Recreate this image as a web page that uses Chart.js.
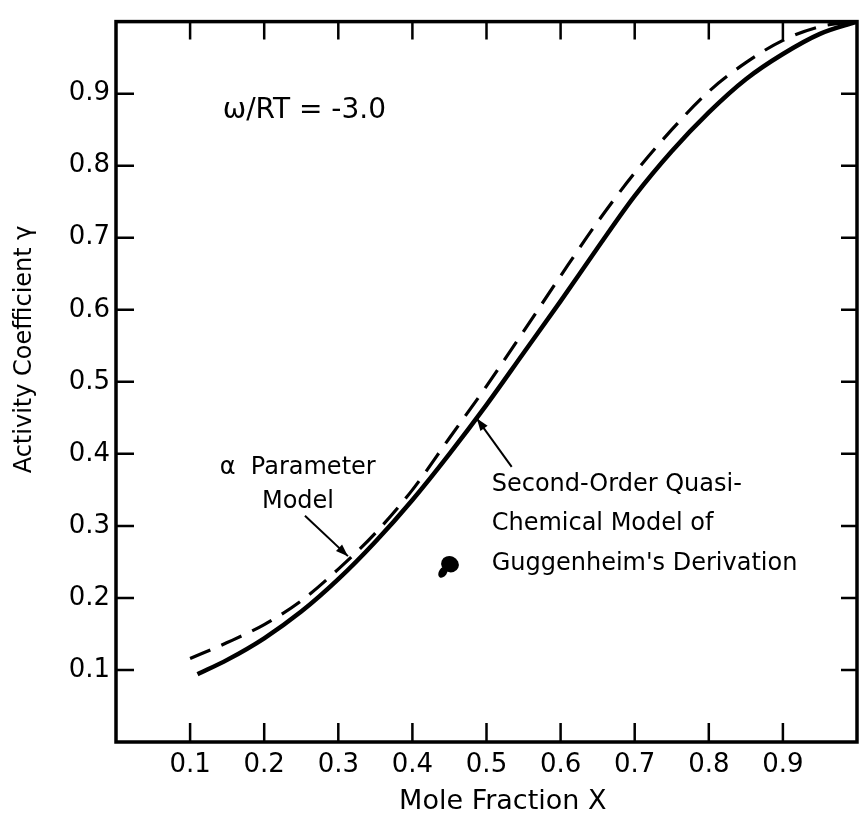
<!DOCTYPE html>
<html>
<head>
<meta charset="utf-8">
<script src="https://cdn.jsdelivr.net/npm/chart.js@4.4.0/dist/chart.umd.min.js"></script>
<style>
  html, body { margin: 0; padding: 0; background: #fff; }
  #wrap { width: 866px; height: 817px; }
</style>
</head>
<body>
<div id="wrap"><canvas id="myChart" width="866" height="817"></canvas></div>
<script>
// valores (fraccion molar vs coeficiente de actividad)
const xSolid = [0.11, 0.15, 0.2, 0.25, 0.3, 0.35, 0.4, 0.45, 0.5, 0.55, 0.6, 0.65, 0.7, 0.75, 0.8, 0.85, 0.9, 0.95, 1.0];
const ySolid = [0.094, 0.114, 0.144, 0.181, 0.226, 0.278, 0.336, 0.400, 0.468, 0.540, 0.612, 0.686, 0.758, 0.820, 0.874, 0.920, 0.955, 0.983, 1.0];

const xDash = [0.1, 0.15, 0.2, 0.25, 0.3, 0.35, 0.4, 0.45, 0.5, 0.55, 0.6, 0.65, 0.7, 0.75, 0.8, 0.85, 0.9, 0.95, 1.0];
const yDash = [0.116, 0.138, 0.163, 0.196, 0.240, 0.290, 0.350, 0.422, 0.494, 0.570, 0.647, 0.722, 0.790, 0.850, 0.903, 0.943, 0.974, 0.993, 1.0];

const tickLabels = ['0.1', '0.2', '0.3', '0.4', '0.5', '0.6', '0.7', '0.8', '0.9'];

const FONT = '"DejaVu Sans", sans-serif';

function pts(xs, ys) {
  return xs.map((x, i) => ({ x: x, y: ys[i] }));
}

function tickText(value) {
  const i = Math.round(value * 10) - 1;
  return (i >= 0 && i < tickLabels.length) ? tickLabels[i] : '';
}

// marco grueso y marcas hacia adentro en los cuatro lados
const frame = {
  id: 'frame',
  afterDatasetsDraw(chart) {
    const { ctx, chartArea: a, scales: { x, y } } = chart;
    ctx.save();
    ctx.strokeStyle = '#000';
    ctx.lineWidth = 2.5;
    ctx.beginPath();
    x.ticks.forEach(t => {
      if (!tickText(t.value)) return;
      const px = x.getPixelForValue(t.value);
      ctx.moveTo(px, a.bottom); ctx.lineTo(px, a.bottom - 19);
      ctx.moveTo(px, a.top); ctx.lineTo(px, a.top + 18);
    });
    y.ticks.forEach(t => {
      if (!tickText(t.value)) return;
      const py = y.getPixelForValue(t.value);
      ctx.moveTo(a.left, py); ctx.lineTo(a.left + 18, py);
      ctx.moveTo(a.right, py); ctx.lineTo(a.right - 16, py);
    });
    ctx.stroke();
    ctx.lineWidth = 3.5;
    ctx.strokeRect(a.left, a.top, a.width, a.height);
    ctx.restore();
  }
};

// textos, titulos de ejes y flechas del grafico original
const notes = {
  id: 'notes',
  afterDraw(chart) {
    const { ctx, scales: { x, y } } = chart;
    const P = (vx, vy) => [x.getPixelForValue(vx), y.getPixelForValue(vy)];
    ctx.save();
    ctx.fillStyle = '#000';
    ctx.strokeStyle = '#000';
    ctx.textBaseline = 'middle';
    ctx.textAlign = 'left';

    ctx.font = '28px ' + FONT;
    let p = P(0.144, 0.876);
    ctx.fillText('\u03c9/RT = -3.0', p[0], p[1]);

    ctx.font = '24px ' + FONT;
    p = P(0.14, 0.381); ctx.fillText('\u03b1  Parameter', p[0], p[1]);
    p = P(0.197, 0.334); ctx.fillText('Model', p[0], p[1]);
    p = P(0.507, 0.357); ctx.fillText('Second-Order Quasi-', p[0], p[1]);
    p = P(0.507, 0.303); ctx.fillText('Chemical Model of', p[0], p[1]);
    p = P(0.507, 0.248); ctx.fillText("Guggenheim's Derivation", p[0], p[1]);

    // titulos de ejes
    ctx.textAlign = 'center';
    ctx.font = '27px ' + FONT;
    ctx.fillText('Mole Fraction X', x.getPixelForValue(0.522), 802);
    ctx.save();
    ctx.translate(25, y.getPixelForValue(0.545));
    ctx.rotate(-Math.PI / 2);
    ctx.font = '24px ' + FONT;
    ctx.fillText('Activity Coefficient \u03b3', 0, 0);
    ctx.restore();

    function arrow(x0, y0, x1, y1) {
      const a = P(x0, y0), b = P(x1, y1);
      ctx.lineWidth = 2;
      ctx.beginPath(); ctx.moveTo(a[0], a[1]); ctx.lineTo(b[0], b[1]); ctx.stroke();
      const ang = Math.atan2(b[1] - a[1], b[0] - a[0]);
      ctx.beginPath();
      ctx.moveTo(b[0], b[1]);
      ctx.lineTo(b[0] - 13 * Math.cos(ang - 0.35), b[1] - 13 * Math.sin(ang - 0.35));
      ctx.lineTo(b[0] - 13 * Math.cos(ang + 0.35), b[1] - 13 * Math.sin(ang + 0.35));
      ctx.closePath(); ctx.fill();
    }
    arrow(0.255, 0.314, 0.313, 0.258);
    arrow(0.534, 0.382, 0.487, 0.449);

    // mancha del escaneo
    p = P(0.448, 0.244);
    ctx.beginPath(); ctx.ellipse(p[0] + 2, p[1] - 2, 9, 8, 0.4, 0, Math.PI * 2); ctx.fill();
    ctx.beginPath(); ctx.ellipse(p[0] - 5, p[1] + 6, 4, 6, 0.6, 0, Math.PI * 2); ctx.fill();
    ctx.restore();
  }
};

const data = {
  datasets: [{
    label: 'Second-Order Quasi-Chemical Model',
    data: pts(xSolid, ySolid),
    borderColor: '#000',
    borderWidth: 4.5,
    pointRadius: 0,
    cubicInterpolationMode: 'monotone',
    fill: false
  }, {
    label: 'alpha Parameter Model',
    data: pts(xDash, yDash),
    borderColor: '#000',
    borderWidth: 3.2,
    borderDash: [22, 12],
    pointRadius: 0,
    cubicInterpolationMode: 'monotone',
    fill: false
  }]
};

const config = {
  type: 'line',
  data: data,
  options: {
    responsive: false,
    animation: false,
    layout: { padding: { top: 10, right: 9, left: 0, bottom: 0 } },
    plugins: { legend: { display: false }, tooltip: { enabled: false } },
    scales: {
      x: {
        type: 'linear', min: 0, max: 1,
        grid: { display: false, drawTicks: false },
        border: { display: false },
        ticks: {
          stepSize: 0.1, padding: 8, color: '#000', maxRotation: 0, autoSkip: false,
          font: { family: FONT, size: 26 },
          callback: v => tickText(v)
        },
        afterFit: s => { s.height = 75; }
      },
      y: {
        type: 'linear', min: 0, max: 1,
        grid: { display: false, drawTicks: false },
        border: { display: false },
        ticks: {
          stepSize: 0.1, padding: 6, color: '#000', autoSkip: false,
          font: { family: FONT, size: 26 },
          callback: v => tickText(v)
        },
        afterFit: s => { s.width = 116; }
      }
    }
  },
  plugins: [frame, notes]
};

const ctx = document.getElementById('myChart').getContext('2d');
const myChart = new Chart(ctx, config);
</script>
</body>
</html>
